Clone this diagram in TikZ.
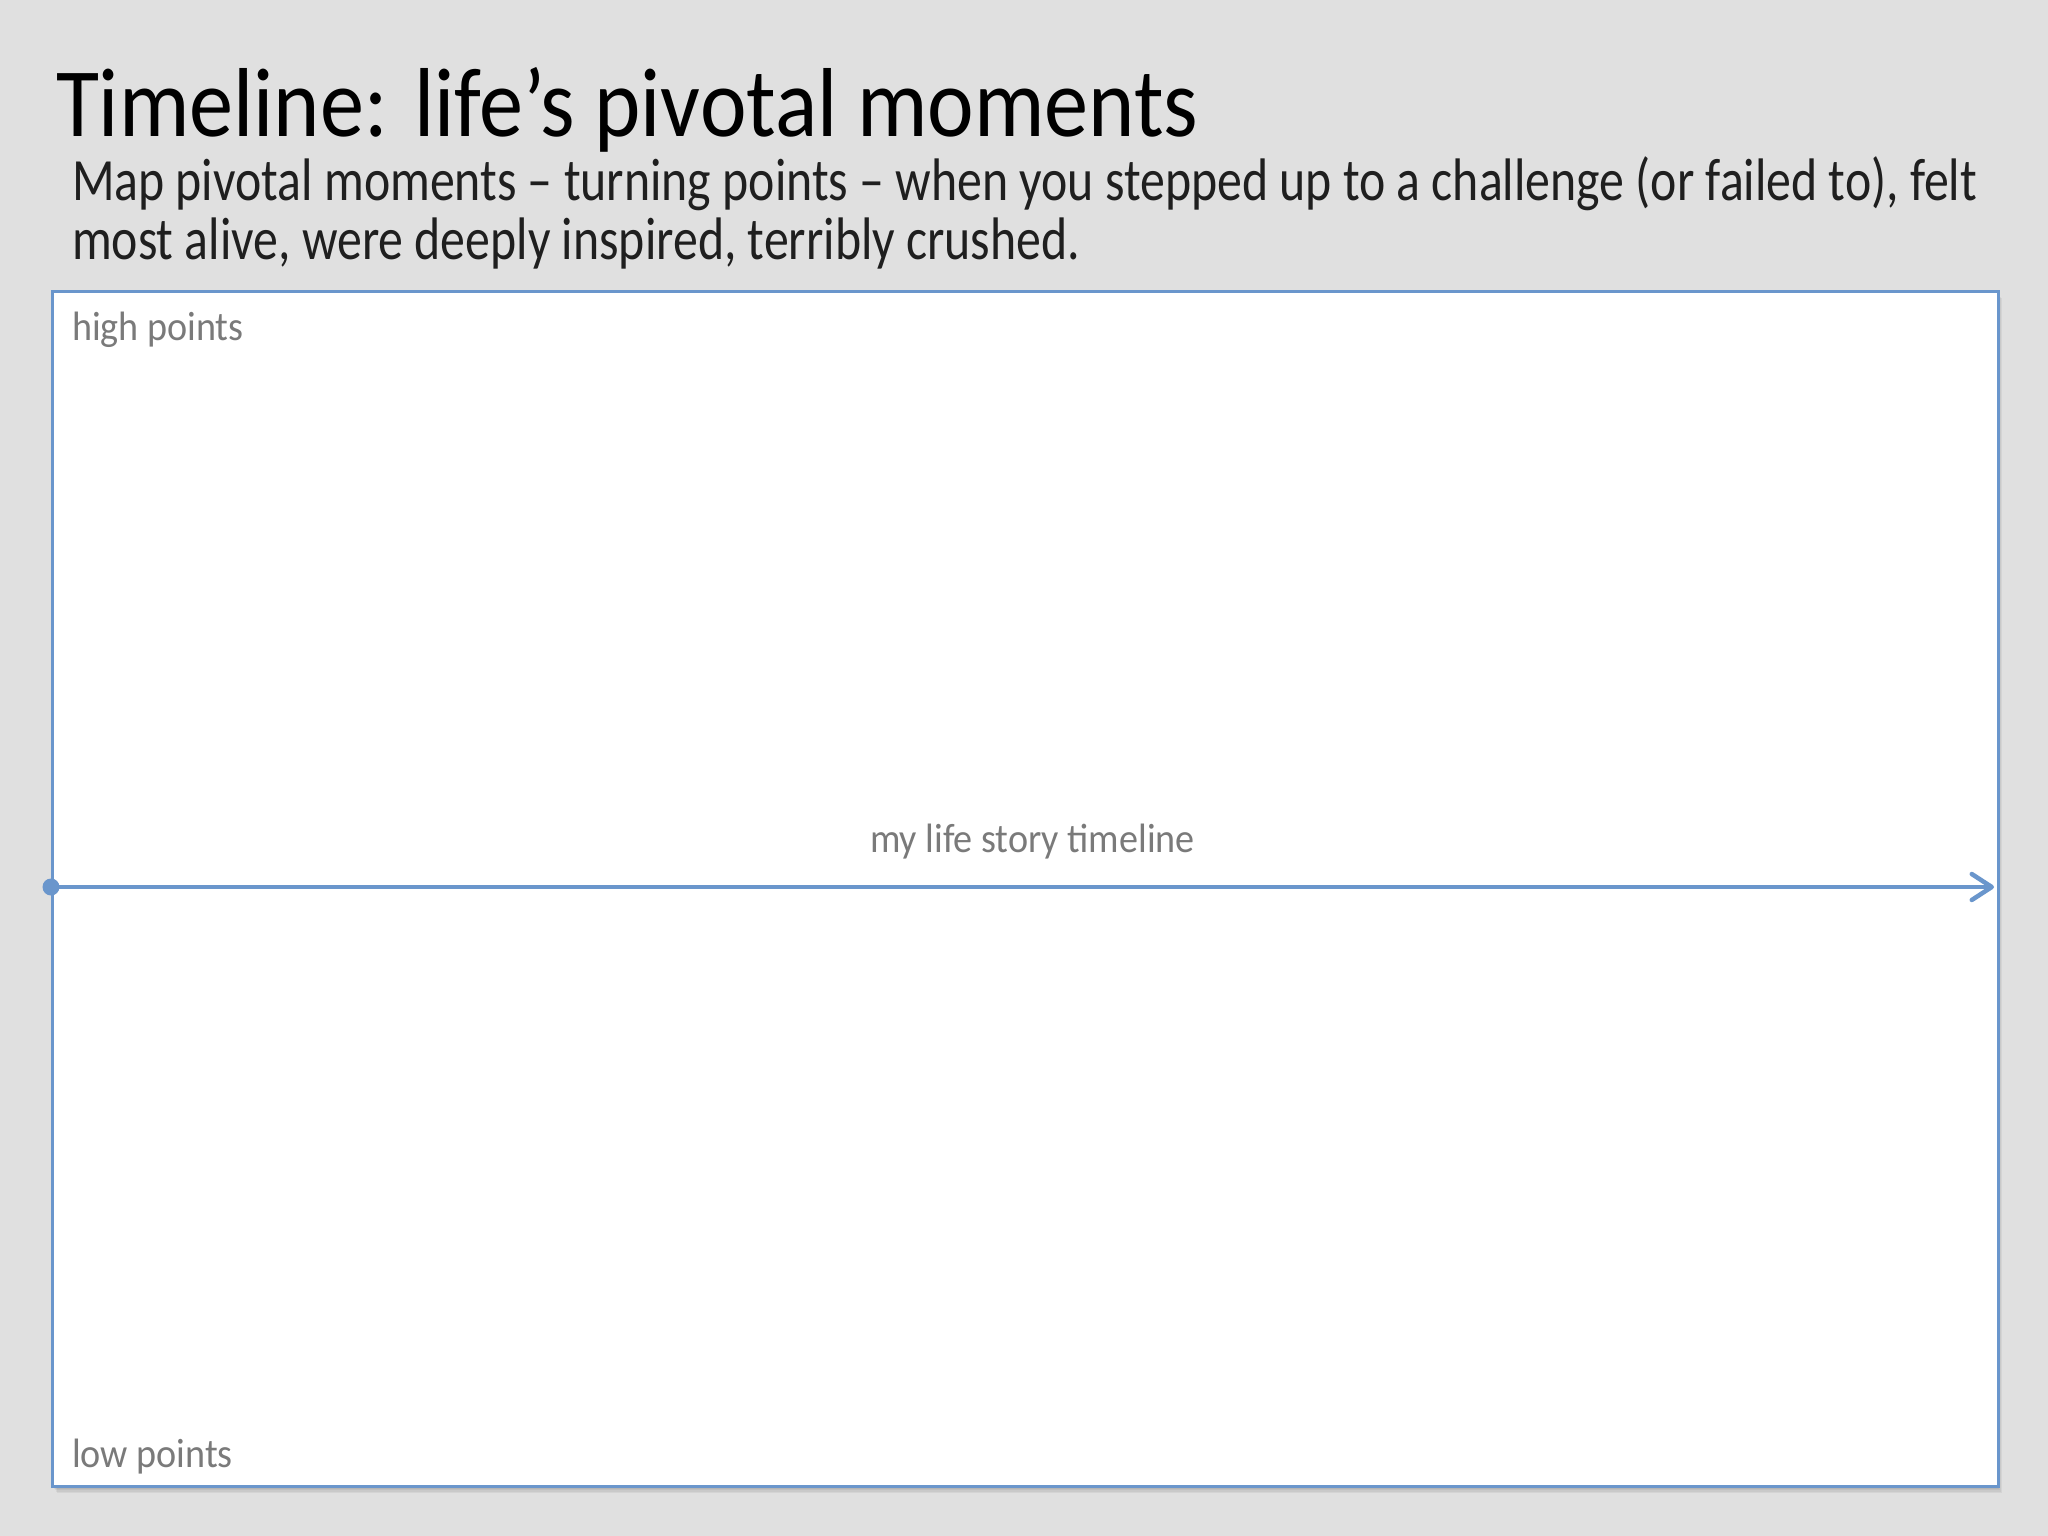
\documentclass[tikz,border=0pt]{standalone}
\usepackage{fontspec}
\setmainfont{Carlito}
\newfontfamily\titlefont[FakeStretch=0.9]{Carlito}
\newfontfamily\subfont[FakeStretch=0.83]{Carlito}
\newfontfamily\labfont[FakeStretch=0.93]{Carlito}
\usetikzlibrary{arrows.meta}
\definecolor{bg}{HTML}{E0E0E0}
\definecolor{frameblue}{HTML}{6A96CC}
\definecolor{labelgray}{HTML}{7A7A7A}
\begin{document}
\begin{tikzpicture}[x=1pt,y=-1pt,
  txt/.style={anchor=base west, inner sep=0pt, outer sep=0pt},
  titletxt/.style={txt, font=\titlefont\fontsize{98}{110}\selectfont, text=black},
  subtxt/.style={txt, font=\subfont\fontsize{60}{70}\selectfont, text=black!88},
  labtxt/.style={txt, font=\labfont\fontsize{41}{48}\selectfont, text=labelgray},
  framebox/.style={draw=frameblue, line width=2.8pt, fill=white, inner sep=0pt, anchor=north west},
  tline/.style={draw=frameblue, line width=4pt, -{Straight Barb[length=20pt, width=26pt, line width=4.5pt, line cap=round, line join=round]}},
  tdot/.style={circle, fill=frameblue, inner sep=0pt, minimum size=17pt}
]
\useasboundingbox (0,0) rectangle (2048,1536);
\fill[bg] (0,0) rectangle (2048,1536);
% soft shadow
\foreach \i/\o in {1/0.05,2/0.05,3/0.05,4/0.05,5/0.05,6/0.05}{
  \fill[black, opacity=\o] (51+\i,290+\i*1.3) rectangle (1997+\i*0.8,1485+\i*1.3);
}
\node[framebox, minimum width=1946pt, minimum height=1195pt] (frame) at (51,290) {};

\node[titletxt] (title) at (56,136) {Timeline: life’s pivotal moments};
\node[subtxt] (sub1) at (72,200) {Map pivotal moments – turning points – when you stepped up to a challenge (or failed to), felt};
\node[subtxt] (sub2) at (72,259) {most alive, were deeply inspired, terribly crushed.};

\node[labtxt] (high) at (72,340) {high points};
\node[labtxt] (story) at (870,852) {my life story timeline};
\node[labtxt] (low) at (72,1467) {low points};

\coordinate (tstart) at (51,887);
\coordinate (tend) at (1994,887);
\draw[tline] (tstart) -- (tend);
\node[tdot] (dot) at (tstart) {};
\end{tikzpicture}
\end{document}
